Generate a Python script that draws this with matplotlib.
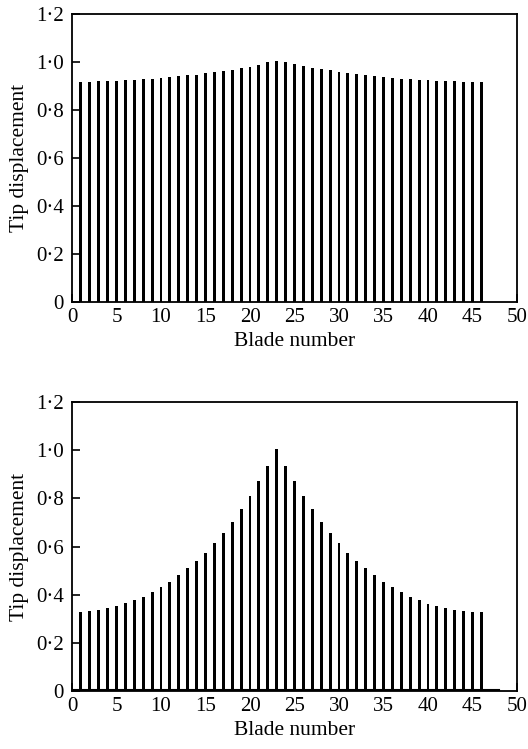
import matplotlib
matplotlib.use('Agg')
import matplotlib.pyplot as plt
import numpy as np
from matplotlib.ticker import FuncFormatter

# blade numbers 1..46
blades = list(range(1, 47))

# tuned disk: almost uniform response with a slight rise around the middle
tip_tuned = [0.917, 0.917, 0.919, 0.921, 0.922, 0.925, 0.926, 0.928, 0.931, 0.933,
             0.936, 0.940, 0.944, 0.947, 0.954, 0.958, 0.963, 0.968, 0.975, 0.981,
             0.989, 0.999, 1.005, 0.998, 0.990, 0.982, 0.976, 0.971, 0.965, 0.960,
             0.956, 0.950, 0.946, 0.940, 0.938, 0.935, 0.931, 0.928, 0.926, 0.924,
             0.922, 0.921, 0.919, 0.918, 0.918, 0.917]

# mistuned disk: response localised around blade 23
tip_mistuned = [0.329, 0.332, 0.337, 0.345, 0.354, 0.365, 0.377, 0.392, 0.411, 0.433,
                0.454, 0.483, 0.509, 0.540, 0.575, 0.615, 0.655, 0.703, 0.755, 0.808,
                0.872, 0.935, 1.005, 0.935, 0.872, 0.808, 0.755, 0.703, 0.655, 0.615,
                0.575, 0.540, 0.509, 0.483, 0.454, 0.433, 0.411, 0.390, 0.377, 0.363,
                0.352, 0.344, 0.336, 0.332, 0.329, 0.328]

xticks = [0, 5, 10, 15, 20, 25, 30, 35, 40, 45, 50]
yticks = [0, 0.2, 0.4, 0.6, 0.8, 1.0, 1.2]

plt.rcParams['font.family'] = ['Liberation Serif', 'DejaVu Serif']
plt.rcParams['font.size'] = 15


def dot_fmt(v, pos):
    if abs(v) < 1e-9:
        return '0'
    return ('%.1f' % v).replace('.', '\u00b7')


def style_axes(ax):
    ax.set_xlim(0, 50)
    ax.set_ylim(0, 1.2)
    ax.set_xticks(xticks)
    ax.set_yticks(yticks)
    ax.yaxis.set_major_formatter(FuncFormatter(dot_fmt))
    ax.tick_params(direction='in', length=6, width=1.2, labelsize=15)
    ax.tick_params(axis='y', pad=6)
    ax.tick_params(axis='x', pad=4)
    for s in ax.spines.values():
        s.set_linewidth(1.3)
    ax.set_xlabel('Blade number', fontsize=15.5, labelpad=4)
    ax.set_ylabel('Tip displacement', fontsize=15.5, labelpad=5)


fig = plt.figure(figsize=(5.28, 7.49), dpi=100)
ax1 = fig.add_axes([0.1364, 0.5968, 0.8428, 0.3845])
ax2 = fig.add_axes([0.1364, 0.0774, 0.8428, 0.3859])

ax1.bar(blades, tip_tuned, width=0.33, color='black')
style_axes(ax1)

ax2.bar(blades, tip_mistuned, width=0.33, color='black')
ax2.plot([0, 48], [0.004, 0.004], color='black', lw=1.5)
style_axes(ax2)

fig.savefig('out.png', dpi=100)
